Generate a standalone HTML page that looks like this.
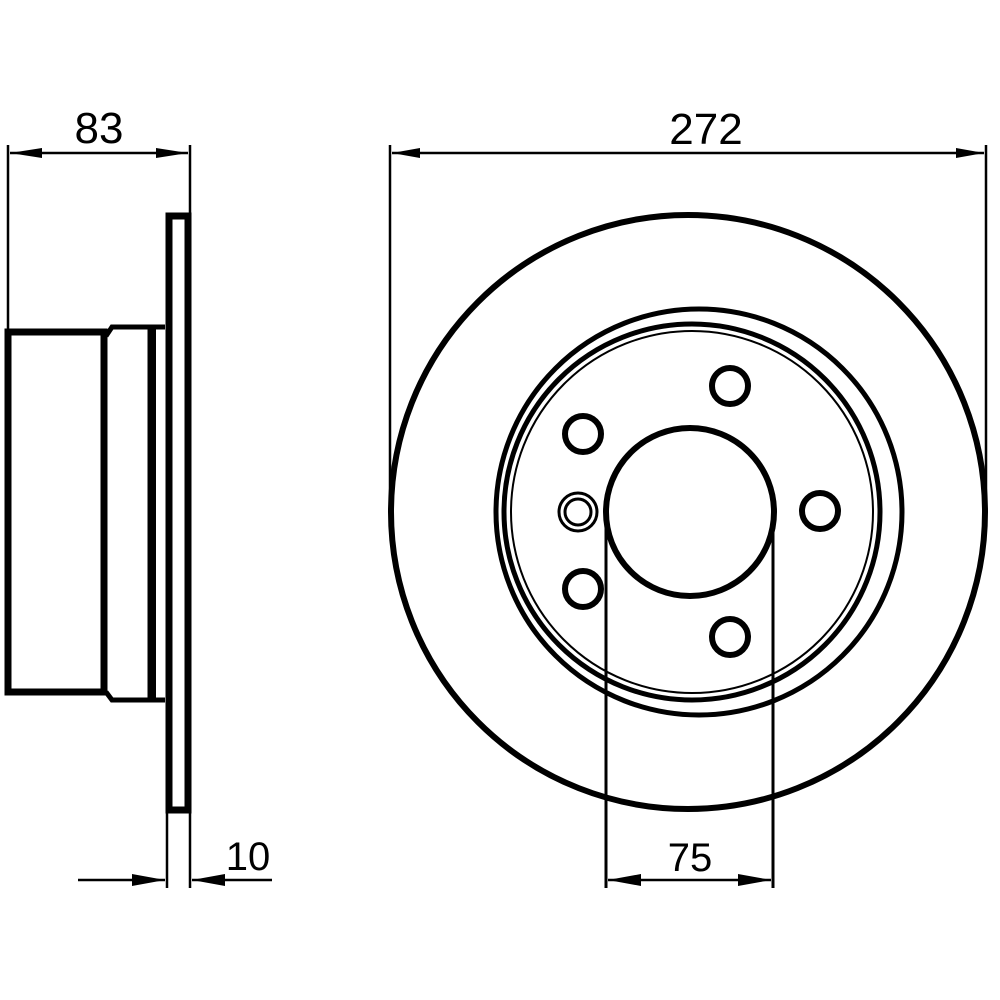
<!DOCTYPE html>
<html><head><style>html,body{margin:0;padding:0;background:#fff}svg{display:block}</style></head>
<body>
<svg width="1000" height="1000" viewBox="0 0 1000 1000" xmlns="http://www.w3.org/2000/svg">
<defs>
<marker id="a" viewBox="0 0 10 10" refX="10" refY="5" markerWidth="10" markerHeight="10" markerUnits="userSpaceOnUse" orient="auto-start-reverse"><path d="M0,1 L10,5 L0,9 z" fill="#000"/></marker>
</defs>
<g fill="none" stroke="#000">
<!-- left view dims -->
<line x1="8" y1="145" x2="8" y2="335" stroke-width="2.5"/>
<line x1="190" y1="145" x2="190" y2="215" stroke-width="2.5"/>
<path d="M10,153 H188" stroke-width="2.5"/>
<path d="M10,153 L42,148 L42,158 Z M188,153 L156,148 L156,158 Z" fill="#000" stroke="none"/>
<!-- flange -->
<rect x="169" y="216" width="19" height="594" stroke-width="7"/>
<!-- hub -->
<path d="M8,332 H104 V692 H8 Z" stroke-width="7"/>
<path d="M106,336 L112,327 H150 V700 H112 L106,692" stroke-width="5"/>
<path d="M150,327 H165 M150,700 H165" stroke-width="5"/>
<line x1="153" y1="327" x2="153" y2="700" stroke-width="6"/>
<!-- 10 dim -->
<line x1="167" y1="812" x2="167" y2="888" stroke-width="2.5"/>
<line x1="190" y1="812" x2="190" y2="888" stroke-width="2.5"/>
<path d="M78,880 H165 M192,880 H272" stroke-width="2.5"/>
<path d="M165,880 L132,874 L132,886 Z M192,880 L225,874 L225,886 Z" fill="#000" stroke="none"/>
<!-- right view -->
<line x1="390" y1="145" x2="390" y2="505" stroke-width="2.5"/>
<line x1="986" y1="145" x2="986" y2="512" stroke-width="2.5"/>
<path d="M392,153 H984" stroke-width="2.5"/>
<path d="M392,153 L420,148 L420,158 Z M984,153 L956,148 L956,158 Z" fill="#000" stroke="none"/>
<circle cx="688" cy="512" r="297" stroke-width="6"/>
<circle cx="699" cy="512" r="203" stroke-width="5"/>
<circle cx="692" cy="512" r="188" stroke-width="5"/>
<circle cx="692" cy="512" r="181" stroke-width="2"/>
<circle cx="690" cy="512" r="84" stroke-width="6"/>
<circle cx="730" cy="386" r="18" stroke-width="6"/>
<circle cx="583" cy="434" r="18" stroke-width="6"/>
<circle cx="820" cy="511" r="18" stroke-width="6"/>
<circle cx="583" cy="589" r="18" stroke-width="6"/>
<circle cx="730" cy="637" r="18" stroke-width="6"/>
<circle cx="578" cy="512" r="19" stroke-width="3"/>
<circle cx="578" cy="512" r="13" stroke-width="3"/>
<line x1="606" y1="512" x2="606" y2="888" stroke-width="3"/>
<line x1="773" y1="512" x2="773" y2="888" stroke-width="3"/>
<path d="M608,880 H771" stroke-width="2.5"/>
<path d="M608,880 L641,874 L641,886 Z M771,880 L738,874 L738,886 Z" fill="#000" stroke="none"/>
</g>
<g font-family="Liberation Sans, sans-serif" font-size="44" fill="#000" text-anchor="middle">
<text x="99" y="143">83</text>
<text x="706" y="144">272</text>
<text x="248" y="870" font-size="40">10</text>
<text x="690" y="871" font-size="40">75</text>
</g>
</svg>
</body></html>
